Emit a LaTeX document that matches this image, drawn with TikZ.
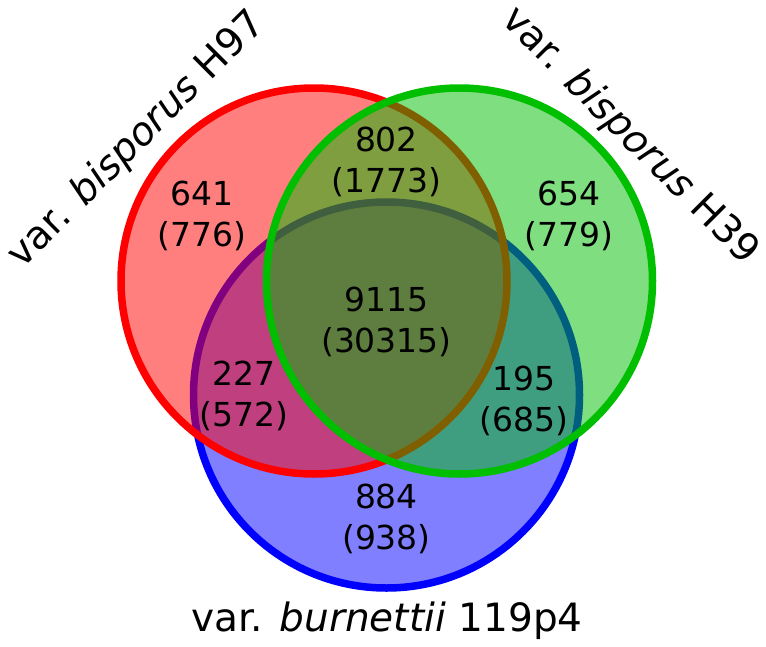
\documentclass[tikz,border=0pt]{standalone}
\usepackage{fontspec}
\setmainfont{DejaVu Sans}
\definecolor{vred}{RGB}{255,0,0}
\definecolor{vgreen}{RGB}{0,190,0}
\definecolor{vblue}{RGB}{0,0,255}
\tikzset{vset/.style={line width=7.5pt,fill opacity=0.5},
	count/.style={anchor=base,inner sep=0pt,font=\fontsize{33}{40}\selectfont},
	setname/.style={inner sep=0pt,font=\fontsize{39}{47}\selectfont}}

\begin{document}
\begin{tikzpicture}
	[x=1pt,y=-1pt]
	\useasboundingbox (0,0) rectangle (766,646);
	\coordinate (cB) at (386.5,395);
	\coordinate (cR) at (314,281);
	\coordinate (cG) at (459.5,281);
	\draw [vset,draw=vblue,fill=vblue] (cB) circle [radius=193pt];
	\draw [vset,draw=vred,fill=vred] (cR) circle [radius=193pt];
	\draw [vset,draw=vgreen,fill=vgreen] (cG) circle [radius=193pt];
	% region counts
	\node [count] (r) at (202,205) {641};
	\node [count] (r-all) at (202,246) {(776)};
	\node [count] (rg) at (386.5,151) {802};
	\node [count] (rg-all) at (386.5,192) {(1773)};
	\node [count] (g) at (569,205) {654};
	\node [count] (g-all) at (569,246) {(779)};
	\node [count] (rgb) at (386.5,311.5) {9115};
	\node [count] (rgb-all) at (386.5,352.5) {(30315)};
	\node [count] (rb) at (244,385.5) {227};
	\node [count] (rb-all) at (244,426.5) {(572)};
	\node [count] (gb) at (524,390.5) {195};
	\node [count] (gb-all) at (524,431.5) {(685)};
	\node [count] (b) at (386.5,508) {884};
	\node [count] (b-all) at (386.5,549) {(938)};
	% set names
	\node [setname,rotate=45] (nameR) at (137,140) {var. \textit{bisporus} H97};
	\node [setname,rotate=-45] (nameG) at (630,136) {var. \textit{bisporus} H39};
	\node [setname,anchor=base] (nameB) at (387,631) {var. \textit{burnettii} 119p4};
\end{tikzpicture}
\end{document}
